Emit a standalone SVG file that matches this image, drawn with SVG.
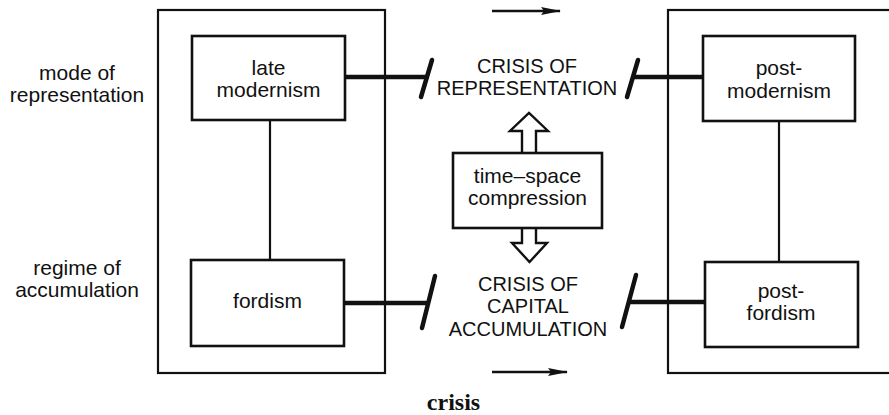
<svg xmlns="http://www.w3.org/2000/svg" width="889" height="415" viewBox="0 0 889 415">
<style>
.t{font-family:"Liberation Sans",Arial,sans-serif;font-size:21px;fill:#111;text-anchor:middle}
.c{font-family:"Liberation Sans",Arial,sans-serif;font-size:20px;fill:#111;text-anchor:middle}
.outer{fill:none;stroke:#111;stroke-width:2.2}
.box{fill:#fff;stroke:#111;stroke-width:2.6}
.thin{stroke:#111;stroke-width:2.2;fill:none}
.thick{stroke:#111;stroke-width:4.5;fill:none}
.slash{stroke:#111;stroke-width:4.5;stroke-linecap:round;fill:none}
.hollow{fill:#fff;stroke:#111;stroke-width:2.4;stroke-linejoin:miter}
.arrow{stroke:#111;stroke-width:2.6;fill:none}
</style>
<defs>
<marker id="ah" markerWidth="20" markerHeight="10" refX="19" refY="5" orient="auto" markerUnits="userSpaceOnUse">
<path d="M0,1 L20,5 L0,9 L3,5 Z" fill="#111"/>
</marker>
</defs>
<rect width="889" height="415" fill="#fff"/>

<g id="outer-boxes">
<rect class="outer" x="158" y="10" width="227" height="363"/>
<rect class="outer" x="668" y="10" width="240" height="363"/>
</g>

<g id="connectors">
<line class="thin" x1="270" y1="120" x2="270" y2="260"/>
<line class="thin" x1="779" y1="121" x2="779" y2="262"/>
<line class="thick" x1="345" y1="77" x2="426" y2="77"/>
<line class="thick" x1="634" y1="77" x2="703" y2="77"/>
<line class="thick" x1="344" y1="303" x2="429" y2="303"/>
<line class="thick" x1="630" y1="302" x2="705" y2="302"/>
<line class="slash" x1="421" y1="97" x2="432" y2="60"/>
<line class="slash" x1="627" y1="97" x2="638" y2="60"/>
<line class="slash" x1="422" y1="328" x2="435" y2="276"/>
<line class="slash" x1="622" y1="327" x2="636" y2="275"/>
<path class="hollow" d="M522,153 L522,131 L510,131 L529,113 L548,131 L536,131 L536,153"/>
<path class="hollow" d="M522,228 L522,243 L512,243 L529.5,262 L547,243 L536,243 L536,228"/>
<line class="arrow" x1="492" y1="11" x2="560" y2="11" marker-end="url(#ah)"/>
<line class="arrow" x1="492" y1="372" x2="567" y2="372" marker-end="url(#ah)"/>
</g>

<g id="late-modernism">
<rect class="box" x="192" y="36" width="153" height="84"/>
<text class="t" x="268.5" y="75">late</text>
<text class="t" x="268.5" y="97">modernism</text>
</g>

<g id="fordism">
<rect class="box" x="191" y="260" width="153" height="86"/>
<text class="t" x="267.5" y="308">fordism</text>
</g>

<g id="post-modernism">
<rect class="box" x="703" y="36" width="152" height="85"/>
<text class="t" x="779" y="75">post-</text>
<text class="t" x="779" y="98">modernism</text>
</g>

<g id="post-fordism">
<rect class="box" x="705" y="262" width="153" height="85"/>
<text class="t" x="781" y="298">post-</text>
<text class="t" x="781" y="320">fordism</text>
</g>

<g id="time-space-compression">
<rect class="box" x="453" y="153" width="149" height="75"/>
<text class="t" x="527.5" y="183">time–space</text>
<text class="t" x="527.5" y="205">compression</text>
</g>

<g id="crisis-of-representation">
<text class="c" x="527" y="73">CRISIS OF</text>
<text class="c" x="527" y="95">REPRESENTATION</text>
</g>

<g id="crisis-of-capital-accumulation">
<text class="c" x="528" y="291">CRISIS OF</text>
<text class="c" x="528" y="313">CAPITAL</text>
<text class="c" x="528" y="336">ACCUMULATION</text>
</g>

<g id="mode-of-representation">
<text class="t" x="77" y="80">mode of</text>
<text class="t" x="77" y="102">representation</text>
</g>

<g id="regime-of-accumulation">
<text class="t" x="77" y="275">regime of</text>
<text class="t" x="77" y="297">accumulation</text>
</g>

<g id="crisis-label">
<text x="453.5" y="410" style="font-family:'Liberation Serif','Times New Roman',serif;font-weight:bold;font-size:24px;fill:#111;text-anchor:middle">crisis</text>
</g>
</svg>
